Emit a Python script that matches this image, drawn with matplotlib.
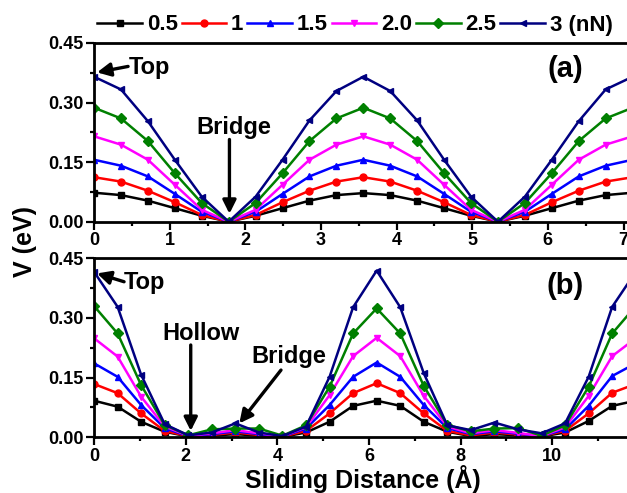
import matplotlib.pyplot as plt
from matplotlib.ticker import MultipleLocator, FormatStrFormatter

plt.rcParams['font.family'] = ['Liberation Sans', 'DejaVu Sans']
plt.rcParams['font.weight'] = 'bold'

loads = ['0.5', '1', '1.5', '2.0', '2.5', '3 (nN)']
colors = ['#000000', '#ff0000', '#0000ff', '#ff00ff', '#008000', '#000080']
markers = ['s', 'o', '^', 'v', 'D', '<']

# panel (a): step 0.356 A
xa = [0.0, 0.356, 0.712, 1.068, 1.424, 1.78, 2.136, 2.492, 2.848, 3.204, 3.56,
      3.916, 4.272, 4.628, 4.984, 5.34, 5.696, 6.052, 6.408, 6.764, 7.12]
va = [
    [0.073, 0.067, 0.053, 0.034, 0.015, 0.0, 0.015, 0.034, 0.053, 0.067, 0.072,
     0.067, 0.053, 0.034, 0.015, 0.0, 0.015, 0.034, 0.053, 0.067, 0.073],
    [0.112, 0.101, 0.078, 0.049, 0.017, 0.0, 0.017, 0.049, 0.078, 0.101, 0.112,
     0.101, 0.078, 0.049, 0.017, 0.0, 0.017, 0.049, 0.078, 0.101, 0.112],
    [0.156, 0.141, 0.114, 0.070, 0.025, 0.0, 0.025, 0.070, 0.114, 0.141, 0.156,
     0.141, 0.114, 0.070, 0.025, 0.0, 0.025, 0.070, 0.114, 0.141, 0.156],
    [0.215, 0.194, 0.156, 0.093, 0.030, 0.0, 0.030, 0.093, 0.156, 0.194, 0.215,
     0.194, 0.156, 0.093, 0.030, 0.0, 0.030, 0.093, 0.156, 0.194, 0.215],
    [0.287, 0.260, 0.203, 0.122, 0.047, 0.0, 0.047, 0.122, 0.203, 0.260, 0.287,
     0.260, 0.203, 0.122, 0.047, 0.0, 0.047, 0.122, 0.203, 0.260, 0.287],
    [0.365, 0.333, 0.253, 0.156, 0.063, 0.0, 0.063, 0.156, 0.255, 0.329, 0.365,
     0.329, 0.255, 0.156, 0.063, 0.0, 0.063, 0.156, 0.253, 0.333, 0.365],
]

# panel (b): step 0.514 A
xb = [0.0, 0.514, 1.028, 1.542, 2.056, 2.57, 3.084, 3.598, 4.112, 4.626, 5.14,
      5.654, 6.168, 6.682, 7.196, 7.71, 8.224, 8.738, 9.252, 9.766, 10.28,
      10.794, 11.308, 11.822]
vb = [
    [0.092, 0.077, 0.039, 0.014, 0.002, 0.004, 0.008, 0.004, 0.001, 0.012, 0.039,
     0.079, 0.092, 0.079, 0.039, 0.014, 0.003, 0.008, 0.005, 0.002, 0.012,
     0.041, 0.079, 0.092],
    [0.134, 0.111, 0.060, 0.016, 0.003, 0.006, 0.012, 0.006, 0.002, 0.016, 0.060,
     0.111, 0.136, 0.111, 0.060, 0.016, 0.005, 0.012, 0.007, 0.003, 0.016,
     0.060, 0.112, 0.134],
    [0.186, 0.152, 0.081, 0.023, 0.003, 0.008, 0.015, 0.008, 0.002, 0.022, 0.081,
     0.152, 0.188, 0.152, 0.081, 0.023, 0.008, 0.015, 0.009, 0.003, 0.020,
     0.079, 0.154, 0.186],
    [0.249, 0.203, 0.102, 0.027, 0.004, 0.010, 0.018, 0.010, 0.003, 0.025, 0.106,
     0.204, 0.250, 0.204, 0.104, 0.027, 0.010, 0.018, 0.011, 0.003, 0.025,
     0.104, 0.204, 0.249],
    [0.330, 0.261, 0.131, 0.031, 0.005, 0.020, 0.022, 0.022, 0.004, 0.030, 0.127,
     0.261, 0.324, 0.261, 0.129, 0.031, 0.015, 0.022, 0.023, 0.004, 0.030,
     0.127, 0.261, 0.330],
    [0.416, 0.328, 0.157, 0.033, 0.005, 0.012, 0.035, 0.012, 0.003, 0.027, 0.152,
     0.327, 0.419, 0.327, 0.161, 0.030, 0.018, 0.037, 0.020, 0.010, 0.035,
     0.152, 0.328, 0.416],
]

fig = plt.figure(figsize=(6.27, 4.93), dpi=100)
ax_a = fig.add_axes([0.150, 0.5503, 0.8565, 0.3625])
ax_b = fig.add_axes([0.150, 0.1130, 0.8565, 0.3631])

for ax, x, vals in [(ax_a, xa, va), (ax_b, xb, vb)]:
    for lab, c, m, y in zip(loads, colors, markers, vals):
        ax.plot(x, y, color=c, marker=m, markersize=5, lw=1.8, label=lab)
    ax.set_ylim(0, 0.45)
    ax.yaxis.set_major_locator(MultipleLocator(0.15))
    ax.yaxis.set_minor_locator(MultipleLocator(0.075))
    ax.yaxis.set_major_formatter(FormatStrFormatter('%.2f'))
    ax.tick_params(which='both', direction='out', width=1.6, labelsize=13,
                   top=False, right=False, pad=2)
    ax.tick_params(which='major', length=5.5)
    ax.tick_params(which='minor', length=3)
    for s in ax.spines.values():
        s.set_linewidth(2)
    for t in ax.get_xticklabels() + ax.get_yticklabels():
        t.set_fontweight('bold')

ax_a.set_xlim(0, 7.1)
ax_a.xaxis.set_major_locator(MultipleLocator(1))
ax_a.xaxis.set_minor_locator(MultipleLocator(0.5))
ax_b.set_xlim(0, 11.72)
ax_b.xaxis.set_major_locator(MultipleLocator(2))
ax_b.xaxis.set_minor_locator(MultipleLocator(1))

arr = dict(arrowstyle='-|>', lw=2.4, color='k', mutation_scale=20,
           shrinkA=0, shrinkB=0)
tx = dict(fontsize=17, fontweight='bold', ha='center', va='center')

ax_a.text(0.73, 0.389, 'Top', **tx)
ax_a.annotate('', xy=(0.04, 0.376), xytext=(0.45, 0.391), arrowprops=arr)
ax_a.text(1.85, 0.237, 'Bridge', **tx)
ax_a.annotate('', xy=(1.79, 0.020), xytext=(1.79, 0.207), arrowprops=arr)
ax_a.text(6.23, 0.384, '(a)', fontsize=21, fontweight='bold', ha='center', va='center')

ax_b.text(1.09, 0.39, 'Top', **tx)
ax_b.annotate('', xy=(0.066, 0.412), xytext=(0.655, 0.391), arrowprops=arr)
ax_b.text(2.34, 0.26, 'Hollow', **tx)
ax_b.annotate('', xy=(2.11, 0.016), xytext=(2.11, 0.232), arrowprops=arr)
ax_b.text(4.24, 0.202, 'Bridge', **tx)
ax_b.annotate('', xy=(3.17, 0.035), xytext=(4.08, 0.169), arrowprops=arr)
ax_b.text(10.28, 0.38, '(b)', fontsize=21, fontweight='bold', ha='center', va='center')

ax_b.set_xlabel('Sliding Distance (Å)', fontsize=18, fontweight='bold', labelpad=0)
fig.text(0.04, 0.51, 'V (eV)', rotation=90, fontsize=18, fontweight='bold',
         ha='center', va='center')

handles, labels = ax_a.get_legend_handles_labels()
fig.legend(handles, labels, loc='center', bbox_to_anchor=(355 / 627, 1 - 25 / 493),
           ncol=6, frameon=False, handlelength=2.0,
           handletextpad=0.22, columnspacing=0.18, borderpad=0,
           prop={'weight': 'bold', 'size': 16})

fig.savefig('out.png', dpi=100)
